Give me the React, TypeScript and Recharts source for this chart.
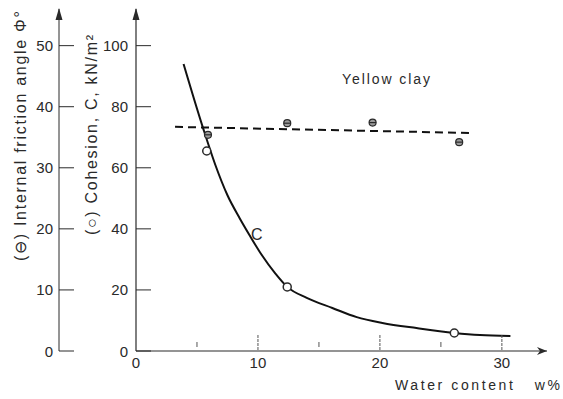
import React from "react";
import { ComposedChart, Line, XAxis, YAxis, ReferenceDot } from "recharts";

// water content w (%) and cohesion C (kN/m2) along the fitted curve
const curveW = [3.9, 5.5, 6.5, 7.5, 8.5, 9.3, 10.3, 11.4, 12.4, 14, 16.1, 18.1, 20.2, 23, 26.1, 28.2, 30.7];
const curveC = [94, 73, 61, 51, 43.5, 38, 31.5, 25.5, 21, 17.4, 14.1, 11.1, 9.2, 7.5, 5.9, 5.2, 4.9];

// measured cohesion points (open circles)
const cohesionW = [5.8, 12.4, 26.1];
const cohesionC = [65.5, 21, 5.9];

// measured friction angle points
const phiW = [5.9, 12.4, 19.4, 26.5];
const phiV = [35.4, 37.3, 37.4, 34.2];

// dashed trend line for friction angle
const phiLineW = [3.2, 27.4];
const phiLineV = [36.7, 35.7];

const xTicks = [0, 5, 10, 15, 20, 25, 30];
const cTicks = [0, 20, 40, 60, 80, 100];
const phiTicks = [0, 10, 20, 30, 40, 50];

const FONT = "'Liberation Sans', Arial, sans-serif";
const INK = "#2a2a2a";

const curveData = curveW.map((w, i) => ({ w, c: curveC[i] }));
const cohesionData = cohesionW.map((w, i) => ({ w, c: cohesionC[i] }));
const phiData = phiW.map((w, i) => ({ w, phi: phiV[i] }));
const phiLineData = phiLineW.map((w, i) => ({ w, phi: phiLineV[i] }));

function YTick(props: any) {
  const { x, y, payload, gap } = props;
  return (
    <g>
      <line x1={x} y1={y} x2={x + 15} y2={y} stroke={INK} strokeWidth={1} />
      <text x={x - gap} y={y} textAnchor="end" dominantBaseline="central" fontSize={15} fontFamily={FONT} fill={INK}>
        {payload.value}
      </text>
    </g>
  );
}

function XTick(props: any) {
  const { x, y, payload } = props;
  const major = payload.value % 10 === 0;
  return (
    <g>
      {major ? (
        payload.value > 0 && <line x1={x} y1={y - 16} x2={x} y2={y} stroke="#555" strokeWidth={1} strokeDasharray="3 1" />
      ) : (
        <line x1={x} y1={y - 9} x2={x} y2={y - 4} stroke="#555" strokeWidth={1} />
      )}
      {major && (
        <text x={x} y={y + 11} textAnchor="middle" dominantBaseline="central" fontSize={15} fontFamily={FONT} fill={INK}>
          {payload.value}
        </text>
      )}
    </g>
  );
}

function YAxisLabel(props: any) {
  const { viewBox, text, dx, dy, length } = props;
  const ax = viewBox.x + viewBox.width;
  const cx = viewBox.x + dx;
  const cy = viewBox.y + dy;
  return (
    <g>
      <polygon points={`${ax},${viewBox.y - 1} ${ax - 3.5},${viewBox.y + 11} ${ax + 3.5},${viewBox.y + 11}`} fill={INK} />
      <text
        x={cx}
        y={cy}
        transform={`rotate(-90 ${cx} ${cy})`}
        textAnchor="middle"
        dominantBaseline="central"
        fontSize={16}
        fontFamily={FONT}
        fill={INK}
        textLength={length}
        lengthAdjust="spacing"
      >
        {text}
      </text>
    </g>
  );
}

function XAxisLabel(props: any) {
  const { viewBox } = props;
  const ax = viewBox.x + viewBox.width;
  const ay = viewBox.y;
  return (
    <g>
      <polygon points={`${ax},${ay} ${ax - 10},${ay - 4} ${ax - 7},${ay} ${ax - 10},${ay + 4}`} fill={INK} />
      <text
        x={ax + 13}
        y={ay + 34}
        textAnchor="end"
        dominantBaseline="central"
        fontSize={14}
        fontFamily={FONT}
        fill={INK}
        textLength={165}
        lengthAdjust="spacing"
        style={{ whiteSpace: "pre" }}
      >
        {"Water content   w%"}
      </text>
    </g>
  );
}

function OpenCircle(props: any) {
  const { cx, cy } = props;
  if (cx == null || cy == null) return null;
  return <circle cx={cx} cy={cy} r={4} fill="#fff" stroke={INK} strokeWidth={1.5} />;
}

function PhiMark(props: any) {
  const { cx, cy } = props;
  if (cx == null || cy == null) return null;
  return (
    <g>
      <circle cx={cx} cy={cy} r={3.5} fill="#9a9a9a" stroke={INK} strokeWidth={1.2} />
      <line x1={cx - 3.5} y1={cy} x2={cx + 3.5} y2={cy} stroke={INK} strokeWidth={1.2} />
    </g>
  );
}

function TextMark(props: any) {
  const { viewBox, text, size, length } = props;
  const cx = viewBox.x + viewBox.width / 2;
  const cy = viewBox.y + viewBox.height / 2;
  return (
    <text
      x={cx}
      y={cy}
      textAnchor="middle"
      dominantBaseline="central"
      fontSize={size}
      fontFamily={FONT}
      fill={INK}
      textLength={length}
      lengthAdjust="spacing"
    >
      {text}
    </text>
  );
}

export default function App() {
  return (
    <div style={{ position: "absolute", left: 0, top: 0, background: "#fff" }}>
      <ComposedChart width={563} height={399} margin={{ top: 9, right: 16, bottom: 0, left: 0 }}>
        <XAxis
          type="number"
          dataKey="w"
          domain={[0, 33.7]}
          ticks={xTicks}
          allowDataOverflow
          height={48}
          tickSize={0}
          tickMargin={0}
          tickLine={false}
          axisLine={{ stroke: INK, strokeWidth: 1.2 }}
          tick={<XTick />}
          label={<XAxisLabel />}
        />
        <YAxis
          yAxisId="c"
          type="number"
          domain={[0, 112]}
          ticks={cTicks}
          allowDataOverflow
          width={77}
          tickSize={0}
          tickMargin={0}
          tickLine={false}
          axisLine={{ stroke: INK, strokeWidth: 1.2 }}
          tick={<YTick gap={8} />}
          label={<YAxisLabel text="(○) Cohesion, C, kN/m²" dx={32} dy={126} length={200} />}
        />
        <YAxis
          yAxisId="phi"
          type="number"
          domain={[0, 56]}
          ticks={phiTicks}
          allowDataOverflow
          width={59}
          tickSize={0}
          tickMargin={0}
          tickLine={false}
          axisLine={{ stroke: INK, strokeWidth: 1 }}
          tick={<YTick gap={6} />}
          label={<YAxisLabel text="(⊖) Internal friction angle Φ°" dx={20} dy={127} length={250} />}
        />
        <Line
          yAxisId="phi"
          data={phiLineData}
          dataKey="phi"
          type="linear"
          stroke="#111"
          strokeWidth={2}
          strokeDasharray="8 5"
          dot={false}
          activeDot={false}
          isAnimationActive={false}
        />
        <Line
          yAxisId="c"
          data={curveData}
          dataKey="c"
          type="monotone"
          stroke="#111"
          strokeWidth={2}
          dot={false}
          activeDot={false}
          isAnimationActive={false}
        />
        <Line
          yAxisId="c"
          data={cohesionData}
          dataKey="c"
          stroke="none"
          dot={<OpenCircle />}
          activeDot={false}
          isAnimationActive={false}
        />
        <Line
          yAxisId="phi"
          data={phiData}
          dataKey="phi"
          stroke="none"
          dot={<PhiMark />}
          activeDot={false}
          isAnimationActive={false}
        />
        <ReferenceDot
          yAxisId="c"
          x={20.5}
          y={89}
          r={0}
          label={<TextMark text="Yellow clay" size={14} length={88} />}
        />
        <ReferenceDot yAxisId="c" x={9.9} y={38} r={0} label={<TextMark text="C" size={16} />} />
      </ComposedChart>
    </div>
  );
}
